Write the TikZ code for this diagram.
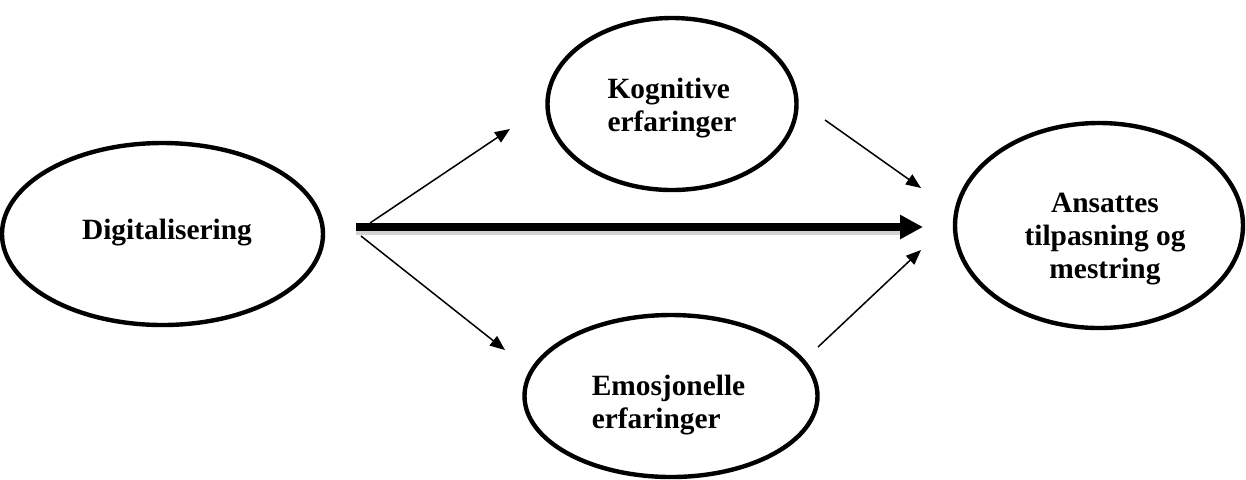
\documentclass[tikz,border=0pt]{standalone}
\usepackage{fontspec}
\setmainfont{Liberation Serif}
\usetikzlibrary{shapes.geometric,arrows.meta}
\begin{document}
\begin{tikzpicture}[x=0.5pt,y=-0.5pt,
  ell/.style={draw, line width=2.2pt, ellipse, inner sep=0pt},
  lbl/.style={font=\fontsize{14.7pt}{16.5pt}\selectfont\bfseries, inner sep=0pt},
  thinarrow/.style={line width=0.75pt, -{Triangle[length=7.5pt,width=6pt]}},
  thickarrow/.style={line width=3.6pt, -{Triangle[length=11.5pt,width=11.5pt]}}]
\useasboundingbox (0,0) rectangle (1246,479);
% ellipses
\node[ell, minimum width=160.5pt, minimum height=91pt] (dig) at (162.5,234) {};
\node[lbl] (digt) at (167,233) {Digitalisering};
\node[ell, minimum width=124.5pt, minimum height=86pt] (kog) at (672,104) {};
\node[lbl, align=left] (kogt) at (672,107.7) {Kognitive\\erfaringer};
\node[ell, minimum width=146.5pt, minimum height=81pt] (emo) at (671,396) {};
\node[lbl, align=left] (emot) at (668.5,404.7) {Emosjonelle\\erfaringer};
\node[ell, minimum width=144pt, minimum height=102.5pt] (ans) at (1099,225.5) {};
\node[lbl, align=center] (anst) at (1105,239) {Ansattes\\tilpasning og\\mestring};
% connector end points
\coordinate (a1s) at (370,223);
\coordinate (a1e) at (510,129);
\coordinate (a2s) at (361,236);
\coordinate (a2e) at (505,350);
\coordinate (a3s) at (356,227);
\coordinate (a3e) at (923,227);
\coordinate (a4s) at (825,120);
\coordinate (a4e) at (921,188);
\coordinate (a5s) at (818,347);
\coordinate (a5e) at (921,250);
% connectors
\draw[thinarrow] (a1s) -- (a1e);
\draw[thinarrow] (a2s) -- (a2e);
\draw[line width=3.6pt, gray!35, line cap=butt] ([yshift=-2pt]a3s) -- ([xshift=-10pt,yshift=-2pt]a3e);
\draw[thickarrow] (a3s) -- (a3e);
\draw[thinarrow] (a4s) -- (a4e);
\draw[thinarrow] (a5s) -- (a5e);
\end{tikzpicture}
\end{document}
